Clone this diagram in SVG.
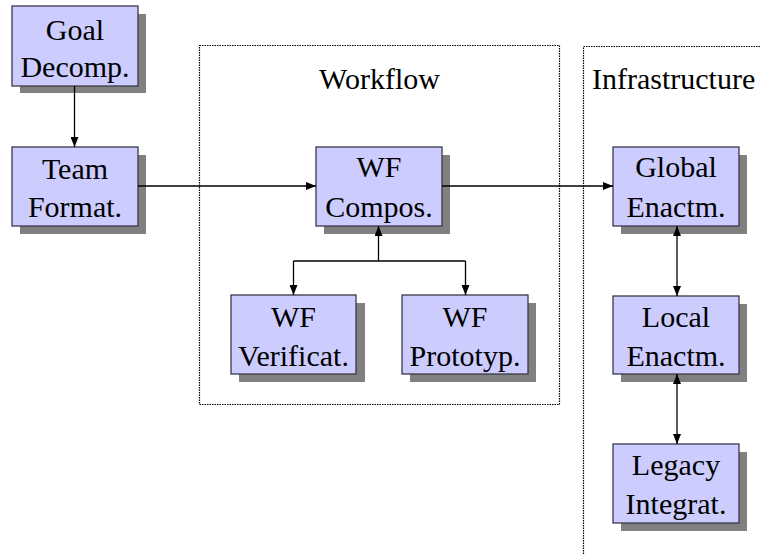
<svg xmlns="http://www.w3.org/2000/svg" width="760" height="554" viewBox="0 0 760 554">
<style>
.box{fill:#CCCCFF;stroke:#3a3a4a;stroke-width:1.3}
.sh{fill:#808080}
.t{font-family:'Liberation Serif','Times New Roman',Times,serif;font-size:30px;fill:#000;text-anchor:middle}
.ti{font-family:'Liberation Serif','Times New Roman',Times,serif;font-size:30px;fill:#000}
.cont{fill:none;stroke:#000;stroke-width:1.2;stroke-dasharray:1.5 1}
.c{fill:none;stroke:#000;stroke-width:1.3}
</style>
<defs>
<marker id="ah" viewBox="0 0 10 8" refX="10" refY="4" markerWidth="10" markerHeight="8" markerUnits="userSpaceOnUse" orient="auto">
<path d="M0,0 L10,4 L0,8 Z" fill="#000"/>
</marker>
<marker id="as" viewBox="0 0 10 8" refX="0" refY="4" markerWidth="10" markerHeight="8" markerUnits="userSpaceOnUse" orient="auto">
<path d="M10,0 L0,4 L10,8 Z" fill="#000"/>
</marker>
</defs>
<rect fill="#fff" width="760" height="554"/>
<g id="containers">
<rect class="cont" x="199.5" y="45.5" width="360" height="359"/>
<text class="ti" x="319" y="89">Workflow</text>
<rect class="cont" x="583.5" y="46.5" width="220" height="600"/>
<text class="ti" x="592" y="89">Infrastructure</text>
</g>
<g id="goal">
<rect class="sh" x="20" y="14" width="126" height="79"/>
<rect class="box" x="12" y="6" width="126" height="80"/>
<text class="t" x="75" y="40">Goal</text>
<text class="t" x="75" y="77">Decomp.</text>
</g>
<g id="team">
<rect class="sh" x="20" y="155" width="126" height="79"/>
<rect class="box" x="12" y="147" width="126" height="79"/>
<text class="t" x="75" y="179">Team</text>
<text class="t" x="75" y="217">Format.</text>
</g>
<g id="wfcompos">
<rect class="sh" x="324" y="155" width="126" height="79"/>
<rect class="box" x="316" y="147" width="126" height="79"/>
<text class="t" x="379" y="177">WF</text>
<text class="t" x="379" y="217">Compos.</text>
</g>
<g id="wfverif">
<rect class="sh" x="239" y="303" width="126" height="79"/>
<rect class="box" x="231" y="295" width="125" height="79"/>
<text class="t" x="293.5" y="327">WF</text>
<text class="t" x="293.5" y="366">Verificat.</text>
</g>
<g id="wfproto">
<rect class="sh" x="410" y="303" width="126" height="79"/>
<rect class="box" x="402" y="295" width="126" height="79"/>
<text class="t" x="465" y="327">WF</text>
<text class="t" x="465" y="366">Prototyp.</text>
</g>
<g id="global">
<rect class="sh" x="621" y="155" width="126" height="79"/>
<rect class="box" x="613" y="147" width="126" height="79"/>
<text class="t" x="676" y="177">Global</text>
<text class="t" x="676" y="217">Enactm.</text>
</g>
<g id="local">
<rect class="sh" x="621" y="304" width="126" height="78"/>
<rect class="box" x="613" y="296" width="126" height="78"/>
<text class="t" x="676" y="327">Local</text>
<text class="t" x="676" y="366">Enactm.</text>
</g>
<g id="legacy">
<rect class="sh" x="621" y="452" width="126" height="79"/>
<rect class="box" x="613" y="444" width="126" height="79"/>
<text class="t" x="676" y="475">Legacy</text>
<text class="t" x="676" y="514">Integrat.</text>
</g>
<g id="connectors">
<path class="c" d="M74.5,86 V147" marker-end="url(#ah)"/>
<path class="c" d="M138,186 H316" marker-end="url(#ah)"/>
<path class="c" d="M442,186 H613" marker-end="url(#ah)"/>
<path class="c" d="M378.5,261 V226" marker-end="url(#ah)"/>
<path class="c" d="M293.5,261 H465.5"/>
<path class="c" d="M293.5,261 V295" marker-end="url(#ah)"/>
<path class="c" d="M465.5,261 V295" marker-end="url(#ah)"/>
<path class="c" d="M677,226 V296" marker-start="url(#as)" marker-end="url(#ah)"/>
<path class="c" d="M677,374 V444" marker-start="url(#as)" marker-end="url(#ah)"/>
</g>
</svg>
